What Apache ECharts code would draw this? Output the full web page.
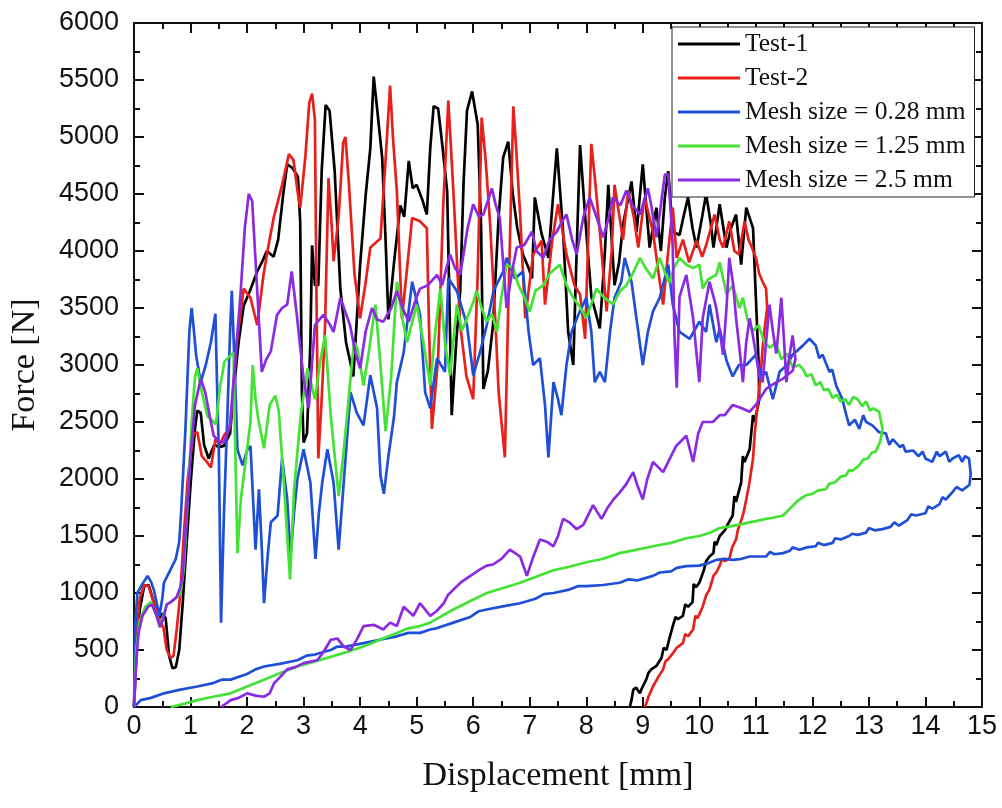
<!DOCTYPE html>
<html>
<head>
<meta charset="utf-8">
<script src="https://cdn.jsdelivr.net/npm/echarts@6/dist/echarts.min.js"></script>
<style>
html,body{margin:0;padding:0;background:#fff;}
#chart{width:1002px;height:808px;}
</style>
</head>
<body>
<div id="chart"></div>
<script>
// ---- Data: [displacement (mm), force (N)] ----
const seriesNames = ['Test-1', 'Test-2', 'Mesh size = 0.28 mm', 'Mesh size = 1.25 mm', 'Mesh size = 2.5 mm'];

const test1 = [[0,0],[0.05,550],[0.1,850],[0.18,1060],[0.26,1070],[0.36,900],[0.45,780],[0.5,820],[0.56,780],[0.62,450],[0.68,340],[0.74,350],[0.8,500],[0.86,900],[0.9,1200],[1.0,1950],[1.08,2450],[1.12,2600],[1.18,2580],[1.24,2300],[1.32,2180],[1.42,2300],[1.5,2280],[1.59,2290],[1.7,2400],[1.76,2760],[1.85,3200],[1.94,3520],[2.05,3650],[2.18,3820],[2.28,3920],[2.35,4000],[2.47,3950],[2.55,4100],[2.64,4500],[2.71,4760],[2.8,4730],[2.9,4650],[2.94,4250],[2.97,2760],[3.0,2320],[3.06,2400],[3.12,3200],[3.15,4050],[3.2,3700],[3.26,3700],[3.32,4700],[3.39,5280],[3.46,5230],[3.55,4700],[3.65,3670],[3.75,3200],[3.88,2900],[4.0,3880],[4.1,4500],[4.18,4900],[4.24,5530],[4.3,5250],[4.39,4820],[4.45,4100],[4.5,3400],[4.6,3900],[4.71,4400],[4.78,4300],[4.86,4790],[4.93,4550],[5.0,4580],[5.1,4450],[5.18,4320],[5.24,4900],[5.3,5270],[5.38,5250],[5.46,4900],[5.54,4520],[5.62,2560],[5.7,3200],[5.77,3650],[5.83,4600],[5.89,5230],[5.98,5400],[6.08,5110],[6.14,4200],[6.18,2790],[6.26,2950],[6.35,3350],[6.45,4300],[6.53,4820],[6.62,4960],[6.7,4500],[6.78,4200],[6.88,3970],[6.98,3850],[7.04,3760],[7.09,4470],[7.21,4150],[7.33,3940],[7.4,4400],[7.48,4900],[7.59,4170],[7.68,3290],[7.77,3000],[7.83,4000],[7.89,4930],[8.0,4170],[8.09,3600],[8.24,3320],[8.33,4000],[8.39,4580],[8.5,3700],[8.58,3900],[8.65,4230],[8.8,4610],[8.89,4170],[9.0,4760],[9.12,4030],[9.24,4380],[9.32,4000],[9.39,4470],[9.45,4700],[9.53,4170],[9.65,4140],[9.72,4300],[9.8,4470],[9.88,4200],[9.95,4030],[10.05,4300],[10.12,4500],[10.2,4250],[10.25,4030],[10.36,4410],[10.48,4030],[10.56,4200],[10.65,4320],[10.74,3880],[10.83,4380],[10.95,4200],[11.0,3590],[11.05,3000],[11.06,2700],[10.98,2500],[10.95,2560],[10.89,2260],[10.8,2150],[10.77,2200],[10.74,1970],[10.65,1800],[10.62,1850],[10.59,1680],[10.5,1600],[10.45,1550],[10.36,1500],[10.3,1420],[10.27,1450],[10.25,1350],[10.18,1320],[10.12,1280],[10.08,1200],[10.0,1090],[9.94,1050],[9.9,1080],[9.88,920],[9.8,880],[9.75,900],[9.71,800],[9.62,770],[9.58,790],[9.53,710],[9.47,600],[9.42,500],[9.37,520],[9.33,430],[9.24,360],[9.15,330],[9.1,300],[9.06,240],[8.98,160],[8.95,120],[8.88,170],[8.83,150],[8.8,60],[8.77,0]];

const test2 = [[0,0],[0.05,650],[0.1,950],[0.18,1070],[0.26,1060],[0.36,900],[0.45,760],[0.52,700],[0.58,500],[0.65,430],[0.7,450],[0.76,700],[0.82,1000],[0.88,1500],[0.95,2000],[1.05,2400],[1.12,2410],[1.2,2200],[1.29,2150],[1.36,2100],[1.44,2350],[1.52,2300],[1.59,2380],[1.7,2450],[1.82,3200],[1.94,3670],[2.06,3590],[2.18,3350],[2.29,3790],[2.38,4050],[2.47,4290],[2.62,4580],[2.74,4850],[2.82,4800],[2.9,4500],[2.94,4380],[3.03,4820],[3.1,5300],[3.15,5380],[3.2,5150],[3.23,3500],[3.26,2180],[3.32,2700],[3.38,3350],[3.44,4640],[3.5,4200],[3.53,3910],[3.62,4300],[3.7,4950],[3.74,5000],[3.8,4600],[3.9,3800],[4.0,3410],[4.09,3700],[4.18,4030],[4.36,4110],[4.45,4800],[4.53,5450],[4.58,5000],[4.65,4520],[4.74,3410],[4.82,3800],[4.92,4290],[5.06,4260],[5.18,4200],[5.22,3300],[5.27,2440],[5.38,3060],[5.47,4400],[5.56,5320],[5.65,4520],[5.77,3350],[5.88,2900],[6.0,2700],[6.08,3800],[6.15,5170],[6.22,4800],[6.3,4230],[6.4,3300],[6.45,2760],[6.56,2190],[6.62,3500],[6.71,5270],[6.76,4900],[6.83,4320],[6.92,3410],[7.06,3970],[7.21,4090],[7.27,3530],[7.4,4100],[7.5,4410],[7.65,3970],[7.79,3700],[7.89,3620],[7.98,3230],[8.04,4200],[8.09,4940],[8.16,4600],[8.24,4170],[8.36,3470],[8.45,4000],[8.5,4580],[8.65,4100],[8.74,4530],[8.84,4300],[8.92,4030],[9.03,4470],[9.18,4170],[9.28,3800],[9.36,3530],[9.45,4000],[9.53,4380],[9.6,3940],[9.71,4100],[9.82,3900],[9.95,4090],[10.05,3950],[10.12,4050],[10.27,4320],[10.36,4100],[10.42,4030],[10.53,4260],[10.62,4000],[10.7,3970],[10.8,4260],[10.87,4100],[10.93,4030],[11.0,3940],[11.06,3800],[11.12,3730],[11.18,3670],[11.2,3500],[11.15,3300],[11.12,3150],[11.08,2900],[11.03,2650],[10.98,2400],[10.95,2180],[10.88,1950],[10.83,1820],[10.78,1700],[10.75,1650],[10.68,1550],[10.65,1470],[10.58,1400],[10.53,1300],[10.45,1280],[10.4,1300],[10.36,1240],[10.3,1180],[10.25,1150],[10.18,1030],[10.12,980],[10.06,880],[9.97,780],[9.93,800],[9.89,680],[9.8,620],[9.75,640],[9.71,560],[9.6,520],[9.53,470],[9.45,420],[9.4,400],[9.36,330],[9.27,260],[9.18,180],[9.1,90],[9.04,0]];

const mesh028 = [[0,0],[0.02,700],[0.06,1000],[0.15,1080],[0.24,1150],[0.3,1100],[0.35,1030],[0.45,800],[0.5,950],[0.53,1090],[0.65,1210],[0.74,1300],[0.8,1450],[0.83,1680],[0.91,2440],[0.98,3300],[1.02,3500],[1.06,3300],[1.1,3080],[1.18,2850],[1.27,3000],[1.36,3200],[1.44,3450],[1.48,2600],[1.5,2260],[1.54,740],[1.59,1680],[1.65,2530],[1.7,3300],[1.73,3650],[1.78,3000],[1.83,2260],[1.92,2120],[2.0,2250],[2.06,2290],[2.15,1380],[2.21,1910],[2.26,1400],[2.3,910],[2.36,1300],[2.42,1620],[2.54,1680],[2.62,2180],[2.71,1820],[2.77,1320],[2.83,1700],[2.89,2000],[3.0,2260],[3.12,1970],[3.21,1300],[3.27,1700],[3.33,1970],[3.42,2260],[3.53,1970],[3.62,1380],[3.71,1970],[3.83,2760],[3.94,2580],[4.06,2470],[4.18,2910],[4.3,2620],[4.36,2030],[4.42,1870],[4.5,2200],[4.6,2550],[4.65,2850],[4.77,3110],[4.92,3730],[5.06,3440],[5.15,2760],[5.24,2620],[5.36,3060],[5.5,2940],[5.56,3760],[5.71,3650],[5.89,3350],[6.0,2910],[6.12,3110],[6.24,3350],[6.36,3650],[6.53,3820],[6.59,3940],[6.74,3760],[6.88,3820],[6.98,3290],[7.06,3000],[7.18,3060],[7.27,2650],[7.33,2190],[7.42,2850],[7.5,2700],[7.56,2560],[7.65,3000],[7.74,3290],[7.86,3440],[8.0,3590],[8.09,3290],[8.15,2850],[8.24,2940],[8.33,2850],[8.42,3290],[8.5,3590],[8.62,3730],[8.68,3940],[8.8,3730],[8.92,3290],[9.0,3000],[9.09,3290],[9.18,3470],[9.3,3590],[9.45,3880],[9.53,3530],[9.65,3290],[9.83,3230],[10.0,3380],[10.12,3290],[10.18,3530],[10.3,3200],[10.36,3320],[10.48,3040],[10.59,2900],[10.7,3000],[10.83,3000],[11.0,3090],[11.1,2900],[11.18,2940],[11.3,2700],[11.42,2940],[11.55,3000],[11.65,3090],[11.83,3170],[11.95,3230],[12.06,3170],[12.12,3060],[12.18,3090],[12.3,2940],[12.35,2960],[12.42,2820],[12.53,2700],[12.6,2560],[12.65,2470],[12.75,2520],[12.83,2440],[12.9,2560],[12.95,2500],[13.06,2470],[13.18,2410],[13.3,2400],[13.36,2300],[13.42,2350],[13.55,2280],[13.6,2300],[13.65,2240],[13.78,2250],[13.88,2200],[13.95,2240],[14.0,2180],[14.12,2150],[14.2,2240],[14.25,2200],[14.36,2240],[14.42,2150],[14.48,2180],[14.59,2210],[14.65,2150],[14.7,2200],[14.77,2180],[14.8,2050],[14.78,1950],[14.65,1900],[14.55,1930],[14.47,1880],[14.36,1820],[14.3,1840],[14.25,1780],[14.12,1740],[14.05,1760],[14.0,1700],[13.83,1680],[13.75,1690],[13.68,1640],[13.53,1590],[13.45,1620],[13.38,1580],[13.24,1560],[13.1,1550],[13.0,1570],[12.95,1530],[12.8,1510],[12.7,1520],[12.65,1500],[12.5,1470],[12.4,1480],[12.36,1440],[12.2,1420],[12.1,1440],[12.06,1410],[11.9,1400],[11.77,1380],[11.65,1400],[11.6,1370],[11.48,1350],[11.33,1340],[11.25,1360],[11.18,1320],[11.0,1320],[10.89,1320],[10.75,1300],[10.59,1290],[10.45,1300],[10.3,1290],[10.15,1260],[10.0,1240],[9.77,1236],[9.6,1220],[9.5,1190],[9.3,1180],[9.18,1150],[8.9,1110],[8.75,1120],[8.59,1090],[8.3,1070],[8.0,1060],[7.85,1060],[7.7,1030],[7.42,1000],[7.25,990],[7.1,950],[6.83,910],[6.5,880],[6.24,855],[6.1,840],[5.95,790],[5.65,740],[5.35,690],[5.24,680],[5.06,650],[4.85,650],[4.65,620],[4.35,590],[4.06,560],[3.75,530],[3.6,530],[3.48,500],[3.2,460],[3.05,450],[2.89,410],[2.6,380],[2.3,355],[2.15,330],[2.0,290],[1.71,240],[1.55,240],[1.4,210],[1.12,180],[0.8,150],[0.53,120],[0.3,80],[0.12,60],[0,0]];

const mesh125 = [[0,0],[0.04,500],[0.1,750],[0.2,880],[0.3,920],[0.4,800],[0.46,700],[0.52,800],[0.58,900],[0.65,920],[0.75,960],[0.82,1000],[0.88,1200],[0.95,1800],[1.02,2500],[1.08,2900],[1.12,2970],[1.2,2760],[1.3,2550],[1.45,2480],[1.52,2800],[1.6,3030],[1.7,3080],[1.76,3110],[1.79,2300],[1.83,1350],[1.89,1820],[1.98,2180],[2.06,2500],[2.1,3000],[2.15,2700],[2.2,2520],[2.3,2270],[2.4,2650],[2.5,2730],[2.56,2600],[2.65,1970],[2.76,1120],[2.83,1900],[2.95,2560],[3.07,2970],[3.2,2700],[3.3,3050],[3.38,3260],[3.48,2560],[3.55,2200],[3.62,1850],[3.7,2200],[3.77,2560],[3.89,3200],[3.95,3150],[4.06,2820],[4.15,3100],[4.27,3530],[4.36,3000],[4.45,2420],[4.55,2900],[4.65,3730],[4.75,3400],[4.83,3200],[5.0,3530],[5.12,3200],[5.24,2820],[5.33,3300],[5.42,3670],[5.5,3200],[5.59,2910],[5.71,3530],[5.8,3300],[5.89,3410],[6.0,3550],[6.06,3650],[6.15,3500],[6.24,3380],[6.33,3450],[6.42,3290],[6.5,3600],[6.59,3880],[6.71,3850],[6.8,3700],[6.9,3600],[7.0,3470],[7.1,3650],[7.24,3700],[7.35,3800],[7.53,3880],[7.65,3700],[7.77,3590],[7.9,3500],[8.0,3410],[8.1,3550],[8.18,3670],[8.3,3600],[8.47,3530],[8.6,3650],[8.71,3700],[8.82,3800],[8.95,3940],[9.05,3850],[9.18,3760],[9.3,3940],[9.4,3800],[9.47,3720],[9.55,3850],[9.65,3940],[9.77,3880],[9.89,3850],[10.0,3880],[10.06,3670],[10.15,3750],[10.3,3790],[10.36,3900],[10.48,3620],[10.59,3700],[10.71,3500],[10.77,3590],[10.85,3400],[10.95,3300],[11.05,3350],[11.15,3200],[11.25,3150],[11.35,3200],[11.45,3050],[11.55,3100],[11.65,2980],[11.77,3000],[11.85,2950],[11.9,2900],[11.98,2920],[12.06,2820],[12.14,2850],[12.2,2780],[12.28,2790],[12.36,2710],[12.43,2740],[12.5,2680],[12.58,2700],[12.65,2650],[12.72,2720],[12.8,2700],[12.88,2640],[12.95,2680],[13.02,2600],[13.08,2620],[13.18,2590],[13.24,2440],[13.2,2330],[13.12,2240],[13.05,2230],[12.98,2180],[12.9,2170],[12.83,2120],[12.7,2070],[12.65,2080],[12.59,2030],[12.5,2020],[12.4,1970],[12.3,1960],[12.24,1910],[12.1,1900],[12.0,1870],[11.9,1860],[11.77,1820],[11.7,1790],[11.6,1740],[11.48,1680],[11.3,1660],[11.18,1650],[11.0,1630],[10.89,1620],[10.7,1600],[10.5,1580],[10.36,1570],[10.2,1530],[10.0,1500],[9.77,1480],[9.5,1440],[9.18,1410],[8.9,1380],[8.59,1350],[8.3,1300],[8.0,1270],[7.7,1230],[7.42,1200],[7.1,1140],[6.83,1090],[6.5,1040],[6.24,1000],[5.95,930],[5.65,855],[5.45,800],[5.24,740],[5.06,710],[4.85,690],[4.65,650],[4.35,590],[4.06,530],[3.75,480],[3.48,440],[3.2,400],[2.89,355],[2.6,300],[2.3,240],[2.0,180],[1.71,120],[1.4,90],[1.12,60],[0.9,30],[0.65,0]];

const mesh25 = [[0,0],[0.04,400],[0.08,650],[0.15,800],[0.25,880],[0.32,900],[0.4,800],[0.46,700],[0.52,780],[0.58,900],[0.65,920],[0.75,960],[0.82,1050],[0.86,1150],[0.92,1600],[1.0,2200],[1.08,2650],[1.18,2880],[1.26,2760],[1.34,2550],[1.41,2380],[1.5,2330],[1.59,2320],[1.7,2470],[1.8,3100],[1.88,3590],[1.96,4200],[2.03,4500],[2.09,4440],[2.14,4000],[2.18,3650],[2.26,2940],[2.34,3050],[2.42,3120],[2.53,3440],[2.62,3500],[2.71,3530],[2.79,3820],[2.88,3440],[3.0,2880],[3.09,2620],[3.2,3350],[3.35,3440],[3.47,3350],[3.53,3290],[3.65,3590],[3.82,3350],[3.92,3100],[4.0,2970],[4.1,3300],[4.21,3500],[4.3,3400],[4.41,3380],[4.55,3500],[4.65,3650],[4.75,3500],[4.86,3380],[5.0,3600],[5.06,3670],[5.2,3700],[5.36,3790],[5.45,3700],[5.59,3970],[5.68,3850],[5.77,3790],[5.9,4200],[6.0,4410],[6.1,4300],[6.18,4320],[6.33,4550],[6.4,4400],[6.47,4290],[6.53,3900],[6.59,3500],[6.65,3700],[6.71,3880],[6.77,4030],[6.9,4050],[7.04,4170],[7.12,4000],[7.24,3940],[7.35,4100],[7.48,4170],[7.56,4250],[7.65,4320],[7.75,4100],[7.83,3970],[7.95,4300],[8.06,4470],[8.18,4300],[8.3,4120],[8.4,4300],[8.47,4470],[8.6,4400],[8.71,4530],[8.82,4400],[8.95,4320],[9.09,4550],[9.15,4400],[9.24,4120],[9.32,4400],[9.39,4670],[9.45,4670],[9.5,4300],[9.53,4030],[9.56,3260],[9.6,2800],[9.65,3600],[9.77,3790],[9.83,3600],[9.89,3410],[9.95,3100],[10.0,2850],[10.06,3410],[10.18,3730],[10.25,3600],[10.3,3500],[10.36,3300],[10.42,3090],[10.48,3500],[10.53,3940],[10.6,3700],[10.65,3410],[10.72,3100],[10.77,2850],[10.83,3200],[10.89,3410],[10.95,3250],[11.0,3100],[11.06,2900],[11.12,2850],[11.18,3200],[11.24,3530],[11.3,3300],[11.36,3100],[11.4,3300],[11.45,3590],[11.5,3200],[11.54,2850],[11.6,3100],[11.65,3260],[11.7,3050],[11.65,2950],[11.48,2880],[11.3,2830],[11.18,2790],[11.0,2650],[10.89,2590],[10.75,2620],[10.59,2650],[10.45,2560],[10.36,2560],[10.24,2500],[10.06,2500],[9.98,2400],[9.89,2150],[9.77,2380],[9.59,2290],[9.45,2150],[9.36,2060],[9.18,2150],[9.08,2000],[9.0,1820],[8.9,1950],[8.83,2060],[8.7,1950],[8.59,1880],[8.48,1820],[8.38,1750],[8.27,1650],[8.12,1770],[7.95,1600],[7.83,1560],[7.7,1620],[7.59,1650],[7.5,1500],[7.42,1410],[7.3,1450],[7.18,1470],[7.05,1300],[6.95,1150],[6.83,1320],[6.65,1380],[6.5,1300],[6.35,1250],[6.24,1240],[6.1,1200],[5.95,1150],[5.8,1100],[5.65,1030],[5.55,980],[5.48,910],[5.35,840],[5.24,800],[5.06,910],[4.94,800],[4.77,880],[4.65,710],[4.53,740],[4.41,680],[4.25,720],[4.06,710],[3.95,600],[3.83,500],[3.71,530],[3.6,600],[3.48,590],[3.35,480],[3.24,410],[3.0,385],[2.85,350],[2.71,330],[2.58,260],[2.48,210],[2.4,120],[2.3,90],[2.15,100],[2.0,120],[1.85,80],[1.71,60],[1.6,20],[1.54,0]];

const seriesData = [test1, test2, mesh028, mesh125, mesh25];
const seriesColors = ['#000000', '#e8201c', '#1f4fd6', '#44e234', '#8a2be2'];

// ---- Chart ----
const chart = echarts.init(document.getElementById('chart'), null, {renderer: 'canvas'});
const axisColor = '#111';
const serif = '"Liberation Serif", "Times New Roman", serif';
const sans = '"Liberation Sans", Arial, sans-serif';
const plainNum = v => String(v);

function mkX(pos, labels) {
  return {
    type: 'value', position: pos, min: 0, max: 15, interval: 1,
    name: labels ? 'Displacement [mm]' : '', nameLocation: 'middle', nameGap: 52,
    nameTextStyle: {fontFamily: serif, fontSize: 34, color: '#111'},
    axisLine: {show: true, onZero: false, lineStyle: {color: axisColor, width: 2}},
    axisTick: {show: true, inside: true, length: 10, lineStyle: {color: axisColor, width: 2}},
    minorTick: {show: true, splitNumber: 2, length: 6, lineStyle: {color: axisColor, width: 2}},
    axisLabel: {show: labels, fontFamily: sans, fontSize: 27, color: '#111', margin: 6, formatter: plainNum},
    splitLine: {show: false}, minorSplitLine: {show: false}
  };
}
function mkY(pos, labels) {
  return {
    type: 'value', position: pos, min: 0, max: 6000, interval: 500,
    name: labels ? 'Force [N]' : '', nameLocation: 'middle', nameGap: 92,
    nameTextStyle: {fontFamily: serif, fontSize: 34, color: '#111'},
    axisLine: {show: true, onZero: false, lineStyle: {color: axisColor, width: 2}},
    axisTick: {show: true, inside: true, length: 10, lineStyle: {color: axisColor, width: 2}},
    minorTick: {show: true, splitNumber: 2, length: 6, lineStyle: {color: axisColor, width: 2}},
    axisLabel: {show: labels, fontFamily: sans, fontSize: 27, color: '#111', margin: 15, formatter: plainNum},
    splitLine: {show: false}, minorSplitLine: {show: false}
  };
}

const option = {
  animation: false,
  backgroundColor: '#ffffff',
  grid: {left: 133, right: 20, top: 23, bottom: 101, containLabel: false},
  xAxis: [mkX('bottom', true), mkX('top', false)],
  yAxis: [mkY('left', true), mkY('right', false)],
  legend: {
    orient: 'vertical', left: 672, top: 27,
    backgroundColor: '#ffffff', borderColor: '#222', borderWidth: 1,
    padding: [4, 9, 4, 6], itemGap: 8, itemWidth: 62, itemHeight: 3,
    icon: 'rect',
    textStyle: {fontFamily: serif, fontSize: 25.5, color: '#111', lineHeight: 26},
    data: seriesNames
  },
  series: seriesNames.map((n, i) => ({
    name: n, type: 'line', xAxisIndex: 0, yAxisIndex: 0,
    data: seriesData[i], symbol: 'none', showSymbol: false,
    color: seriesColors[i],
    lineStyle: {color: seriesColors[i], width: 2.7},
    z: 2 + i * 0.1
  }))
};
chart.setOption(option);
</script>
</body>
</html>
